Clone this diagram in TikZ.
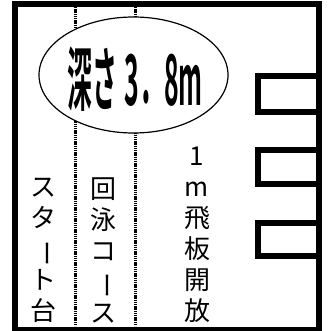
\documentclass[tikz,border=0pt]{standalone}
\usepackage{fontspec}
\usepackage{graphicx}
\setmainfont{Noto Sans CJK JP}[BoldFont={Noto Sans CJK JP Bold}]
\usetikzlibrary{shapes.geometric}

\newcommand\vbar{\rotatebox[origin=c]{-90}{ー}}

\begin{document}
\begin{tikzpicture}[x=1pt,y=-1pt,
  wall/.style={line width=6pt},
  lane/.style={line width=3pt,dash pattern=on 1.4pt off 0.8pt},
  column/.style={inner sep=0pt,align=center,anchor=south,
    font=\fontsize{26}{31}\selectfont}]
  \useasboundingbox (0,0) rectangle (328,331);

  % lane ropes
  \draw[lane] (75,7) -- (75,326);
  \draw[lane] (135,7) -- (135,326);

  % pool walls and diving boards
  \draw[wall] (15,4) rectangle (319,329.5);
  \foreach \t/\b in {76/112.5,150/183.5,223/256}
    \draw[wall] (319,\t) -- (258,\t) -- (258,\b) -- (319,\b);

  \node [draw,ellipse,fill=white,line width=1.2pt,inner sep=0pt,
    minimum width=189pt,minimum height=116pt] (dep) at (133.5,75) {};
  \node (dtx) at (135,79)
    {\scalebox{0.355}[1]{\fontsize{70}{70}\selectfont\bfseries 深さ\hspace{0.3em}3．8m}};

  \node [column] (sta) at (43,323) {ス\\タ\\\vbar\\ト\\台};
  \node [column] (kai) at (103,323) {回\\泳\\コ\\\vbar\\ス};
  \node [column] (tob) at (197,323) {1\\m\\飛\\板\\開\\放};
\end{tikzpicture}
\end{document}
